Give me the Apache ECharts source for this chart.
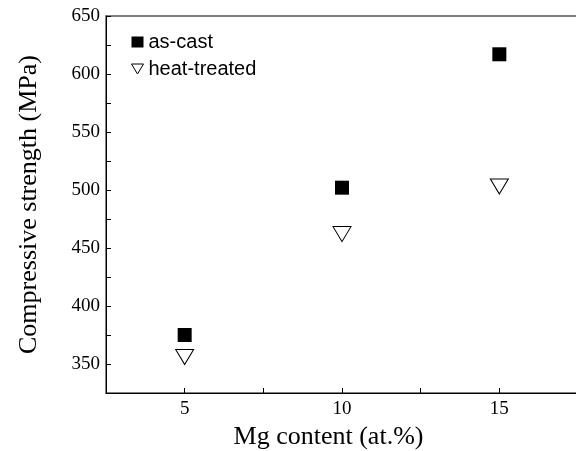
<!DOCTYPE html>
<html>
<head>
<meta charset="utf-8">
<script src="https://cdn.jsdelivr.net/npm/echarts@6/dist/echarts.min.js"></script>
<style>
    html, body { margin: 0; padding: 0; background: #fff; }
    #chart { width: 576px; height: 451px; }
</style>
</head>
<body>
<div id="chart"></div>
<script>
    // Mg 含量 (at.%)
    var mgContent = [5, 10, 15]
    // 抗压强度 (MPa)
    var asCast = [375, 502, 617]
    var heatTreated = [356, 462, 503]
    var seriesNames = ['as-cast', 'heat-treated']

    var chart = echarts.init(document.getElementById('chart'))

    function pairs(xs, ys) {
        return xs.map(function (x, i) { return [x, ys[i]] })
    }

    var serif = '"Liberation Serif", "Times New Roman", serif'

    chart.setOption({
        animation: false,
        grid: {
            left: 106,
            right: -2,
            top: 16,
            bottom: 58,
            outerBoundsMode: 'none',
            show: true,
            borderColor: '#555',
            borderWidth: 1.5
        },
        legend: {
            orient: 'vertical',
            left: 126,
            top: 27,
            itemWidth: 12,
            itemHeight: 11,
            itemGap: 7,
            data: [
                { name: seriesNames[0], icon: 'rect' },
                { name: seriesNames[1], icon: 'path://M0,0 L12,0 L6,10 Z', itemStyle: { color: '#fff', borderColor: '#000', borderWidth: 1 } }
            ],
            textStyle: {
                fontFamily: '"Liberation Sans", Arial, sans-serif',
                fontSize: 20,
                color: '#000'
            }
        },
        xAxis: {
            type: 'value',
            min: 2.5,
            max: 17.5,
            interval: 2.5,
            name: 'Mg content (at.%)',
            nameLocation: 'middle',
            nameGap: 31,
            nameTextStyle: { fontFamily: serif, fontSize: 26, color: '#000', padding: [0, 27, 0, 0] },
            axisLine: { lineStyle: { color: '#000', width: 1 } },
            axisTick: { inside: true, length: 5, lineStyle: { color: '#000' } },
            splitLine: { show: false },
            axisLabel: {
                fontFamily: serif,
                fontSize: 19,
                color: '#000',
                margin: 7,
                showMinLabel: false,
                showMaxLabel: false,
                formatter: function (v) { return v % 5 === 0 ? String(v) : '' }
            }
        },
        yAxis: {
            type: 'value',
            min: 325,
            max: 650,
            interval: 25,
            name: 'Compressive strength (MPa)',
            nameLocation: 'middle',
            nameGap: 64,
            nameTextStyle: { fontFamily: serif, fontSize: 26, color: '#000' },
            axisLine: { lineStyle: { color: '#000', width: 1 } },
            axisTick: { inside: true, length: 5, lineStyle: { color: '#000' } },
            splitLine: { show: false },
            axisLabel: {
                fontFamily: serif,
                fontSize: 19,
                color: '#000',
                margin: 6,
                formatter: function (v) { return v % 50 === 0 ? String(v) : '' }
            }
        },
        series: [
            {
                name: seriesNames[0],
                type: 'scatter',
                symbol: 'rect',
                symbolSize: 14,
                itemStyle: { color: '#000', opacity: 1 },
                data: pairs(mgContent, asCast)
            },
            {
                name: seriesNames[1],
                type: 'scatter',
                symbol: 'triangle',
                symbolRotate: 180,
                symbolSize: [18, 15],
                itemStyle: { color: '#fff', borderColor: '#000', borderWidth: 1, opacity: 1 },
                data: pairs(mgContent, heatTreated)
            }
        ]
    })
</script>
</body>
</html>
